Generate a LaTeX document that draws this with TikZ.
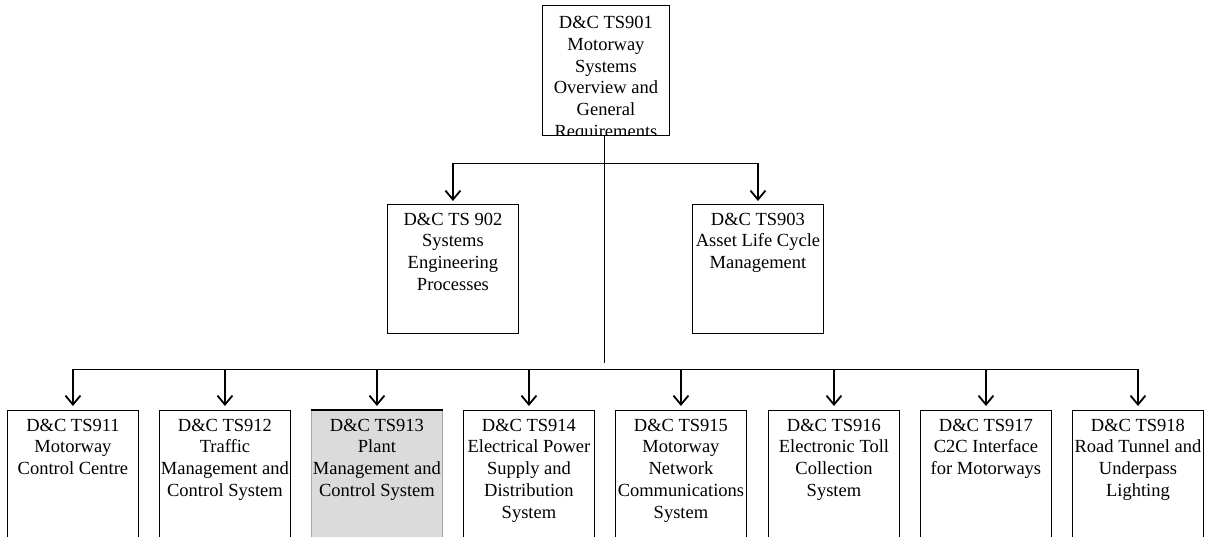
\documentclass[tikz,border=0pt]{standalone}
\usepackage{fontspec}
\setmainfont{Liberation Serif}
\usetikzlibrary{arrows.meta}
\begin{document}
\begin{tikzpicture}[x=1pt,y=-1pt,
  box/.style={draw=black,line width=0.9pt,minimum width=131pt,minimum height=135pt,inner sep=0pt,anchor=north west},
  txt/.style={align=center,font=\fontsize{18.5}{21.8}\selectfont,anchor=north,inner sep=0pt,yshift=-8.5pt},
  link/.style={line width=0.8pt},
  arr/.style={line width=1.8pt,-{Straight Barb[length=9pt,width=15pt]}}]
\useasboundingbox (0,0) rectangle (1205,537);
\fill[white] (0,0) rectangle (1205,537);

% top box
\node[box,minimum width=127pt,minimum height=130pt] (b901) at (542,5) {};
\begin{scope}
\clip (542,5) rectangle (669,135);
\node[txt,yshift=-2.5pt] (t901) at (b901.north) {D\&C TS901\\Motorway\\Systems\\Overview and\\General\\Requirements};
\end{scope}
\draw[line width=0.9pt] (b901.south west) -- (b901.south east);

% second row
\node[box,minimum height=129pt] (b902) at (387,204) {};
\node[txt] (t902) at (b902.north) {D\&C TS 902\\Systems\\Engineering\\Processes};
\node[box,minimum height=129pt] (b903) at (692,204) {};
\node[txt] (t903) at (b903.north) {D\&C TS903\\Asset Life Cycle\\Management};

% bottom row
\node[box] (b911) at (7,410) {};
\node[txt] (t911) at (b911.north) {D\&C TS911\\Motorway\\Control Centre};
\node[box] (b912) at (159,410) {};
\node[txt] (t912) at (b912.north) {D\&C TS912\\Traffic\\Management and\\Control System};
\node[box,fill=black!14,draw=black!35] (b913) at (311,410) {};
\draw[line width=2.6pt] (b913.north west) -- (b913.north east);
\node[txt] (t913) at (b913.north) {D\&C TS913\\Plant\\Management and\\Control System};
\node[box] (b914) at (463,410) {};
\node[txt] (t914) at (b914.north) {D\&C TS914\\Electrical Power\\Supply and\\Distribution\\System};
\node[box] (b915) at (615,410) {};
\node[txt] (t915) at (b915.north) {D\&C TS915\\Motorway\\Network\\Communications\\System};
\node[box] (b916) at (768,410) {};
\node[txt] (t916) at (b916.north) {D\&C TS916\\Electronic Toll\\Collection\\System};
\node[box] (b917) at (920,410) {};
\node[txt] (t917) at (b917.north) {D\&C TS917\\C2C Interface\\for Motorways};
\node[box] (b918) at (1072,410) {};
\node[txt] (t918) at (b918.north) {D\&C TS918\\Road Tunnel and\\Underpass\\Lighting};

% connectors
\coordinate (trunkend) at (604,363);
\coordinate (h1) at (604,163);
\coordinate (h2) at (604,369);
\draw[link] (b901.south -| trunkend) -- (trunkend);
\draw[link] (b902.north |- h1) -- (b903.north |- h1);
\draw[arr,shorten >=3pt] (b902.north |- h1) -- (b902.north);
\draw[arr,shorten >=3pt] (b903.north |- h1) -- (b903.north);
\draw[link] (b911.north |- h2) -- (b918.north |- h2);
\foreach \b in {b911,b912,b913,b914,b915,b916,b917,b918}{
  \draw[arr,shorten >=4pt] (\b.north |- h2) -- (\b.north);
}
\end{tikzpicture}
\end{document}
